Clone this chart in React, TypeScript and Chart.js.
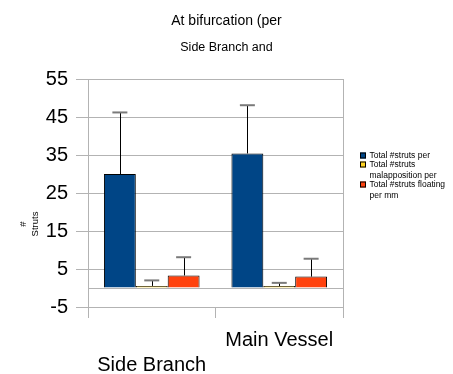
import React, { useEffect, useRef } from 'react';
import { Chart, registerables } from 'chart.js';

Chart.register(...registerables);

const categories = ['Side Branch', 'Main Vessel'];
const seriesLines = [
  ['Total #struts per'],
  ['Total #struts', 'malapposition per'],
  ['Total #struts floating', 'per mm'],
];
const totalStruts = [30, 35.4];
const totalStrutsErr = [16.2, 12.7];
const malapposition = [0.55, 0.5];
const malappositionErr = [1.45, 0.85];
const floating = [3.3, 3.0];
const floatingErr = [4.8, 4.7];
const yTicks = [-5, 5, 15, 25, 35, 45, 55];
const baseline = 0;
const titleText = 'At bifurcation (per';
const subtitleText = 'Side Branch and';
const yAxisTitle = ['#', 'Struts'];
const seriesColors = ['#004586', '#ffd320', '#ff420e'];

const FONT = '"Liberation Sans", Arial, sans-serif';
const gridColor = '#b3b3b3';

const errorBarPlugin = {
  id: 'errorBars',
  afterDatasetsDraw(chart: any) {
    const { ctx } = chart;
    const y = chart.scales.y;
    chart.data.datasets.forEach((ds: any, i: number) => {
      const meta = chart.getDatasetMeta(i);
      meta.data.forEach((bar: any, j: number) => {
        const v = ds.data[j];
        const top = y.getPixelForValue(v + ds.errors[j]);
        const bx = Math.round(bar.x) + 0.5;
        ctx.save();
        ctx.strokeStyle = '#000';
        ctx.lineWidth = 1;
        ctx.beginPath();
        ctx.moveTo(bx, bar.y);
        ctx.lineTo(bx, top);
        ctx.stroke();
        ctx.strokeStyle = '#7a7a7a';
        ctx.lineWidth = 2;
        ctx.beginPath();
        ctx.moveTo(bar.x - 7.5, top);
        ctx.lineTo(bar.x + 7.5, top);
        ctx.stroke();
        ctx.restore();
      });
    });
  },
};

const sideLegendPlugin = {
  id: 'sideLegend',
  afterDraw(chart: any) {
    const { ctx, chartArea } = chart;
    const x = chartArea.right + 17;
    let y = chartArea.top + 76.5;
    const lineH = 11;
    ctx.save();
    ctx.font = `8.5px ${FONT}`;
    ctx.textBaseline = 'middle';
    ctx.textAlign = 'left';
    chart.data.datasets.forEach((ds: any) => {
      ctx.fillStyle = ds.backgroundColor;
      ctx.fillRect(x, y - 3, 6, 6);
      ctx.strokeStyle = '#000';
      ctx.lineWidth = 1;
      ctx.strokeRect(x + 0.5, y - 2.5, 5, 5);
      ctx.fillStyle = '#000';
      ds.legendLines.forEach((line: string, k: number) => {
        ctx.fillText(line, x + 9.5, y + k * lineH);
      });
      y += ds.legendLines.length * lineH - 2;
    });
    ctx.restore();
  },
};

const yTitlePlugin = {
  id: 'yTitle',
  afterDraw(chart: any) {
    const { ctx, chartArea } = chart;
    const cx = chartArea.left - 58.75;
    const cy = chartArea.top + (chartArea.bottom - chartArea.top) * 0.636;
    ctx.save();
    ctx.translate(cx, cy);
    ctx.rotate(-Math.PI / 2);
    ctx.font = `9.5px ${FONT}`;
    ctx.fillStyle = '#000';
    ctx.textAlign = 'center';
    ctx.textBaseline = 'middle';
    ctx.fillText(yAxisTitle[0], 0, -5.75);
    ctx.fillText(yAxisTitle[1], 0, 5.75);
    ctx.restore();
  },
};

export default function App() {
  const ref = useRef<HTMLCanvasElement>(null);

  useEffect(() => {
    if (!ref.current) return;
    Chart.defaults.font.family = FONT;
    Chart.defaults.color = '#000';
    const values = [totalStruts, malapposition, floating];
    const errors = [totalStrutsErr, malappositionErr, floatingErr];
    const chart = new Chart(ref.current, {
      type: 'bar',
      data: {
        labels: categories,
        datasets: seriesLines.map((lines, i) => ({
          label: lines.join(' '),
          legendLines: lines,
          data: values[i],
          errors: errors[i],
          backgroundColor: seriesColors[i],
          borderColor: '#000',
          borderWidth: 1,
          categoryPercentage: 0.75,
          barPercentage: 1,
        })) as any,
      },
      options: {
        animation: false,
        responsive: true,
        maintainAspectRatio: false,
        layout: { padding: 0 },
        plugins: {
          legend: { display: false },
          tooltip: { enabled: false },
          title: {
            display: true,
            text: titleText,
            color: '#000',
            font: { size: 14, weight: 'normal', lineHeight: 1.2 },
            padding: { top: 12.6, bottom: 0 },
          },
          subtitle: {
            display: true,
            text: subtitleText,
            color: '#000',
            font: { size: 12.5, weight: 'normal', lineHeight: 1.2 },
            padding: { top: 10.6, bottom: 24 },
          },
        },
        scales: {
          x: {
            afterFit: (s: any) => {
              s.height = 67;
            },
            ticks: {
              color: '#000',
              font: { size: 20, lineHeight: 1.25 },
              padding: 9.5,
              maxRotation: 0,
              autoSkip: false,
              callback: function (this: any, v: any, i: number) {
                const l = this.getLabelForValue(v);
                return i === 0 ? ['', l] : [l];
              },
            },
            grid: {
              offset: true,
              tickLength: 11,
              color: (c: any) => (c.index === 1 ? 'rgba(0,0,0,0)' : gridColor),
              tickColor: gridColor,
            },
            border: { color: gridColor },
          },
          y: {
            min: -5,
            max: 55,
            afterFit: (s: any) => {
              s.width = 88;
            },
            afterBuildTicks: (s: any) => {
              s.ticks = [...yTicks, baseline].sort((a, b) => a - b).map((v) => ({ value: v }));
            },
            ticks: {
              color: '#000',
              font: { size: 20 },
              padding: 8,
              callback: (v: any) => (v === baseline ? '' : String(v)),
            },
            grid: {
              color: gridColor,
              tickLength: 12,
              tickColor: (c: any) => (c.tick && c.tick.value === baseline ? 'rgba(0,0,0,0)' : gridColor),
            },
            border: { color: gridColor },
          },
          y2: {
            type: 'linear',
            position: 'right',
            display: true,
            afterFit: (s: any) => {
              s.width = 110;
            },
            ticks: { display: false },
            grid: { display: false, drawOnChartArea: false },
            border: { display: false },
          },
        },
      },
      plugins: [errorBarPlugin, sideLegendPlugin, yTitlePlugin],
    } as any);
    return () => chart.destroy();
  }, []);

  return (
    <div style={{ position: 'fixed', left: 0, top: 0, width: 453, height: 374 }}>
      <canvas ref={ref} />
    </div>
  );
}
